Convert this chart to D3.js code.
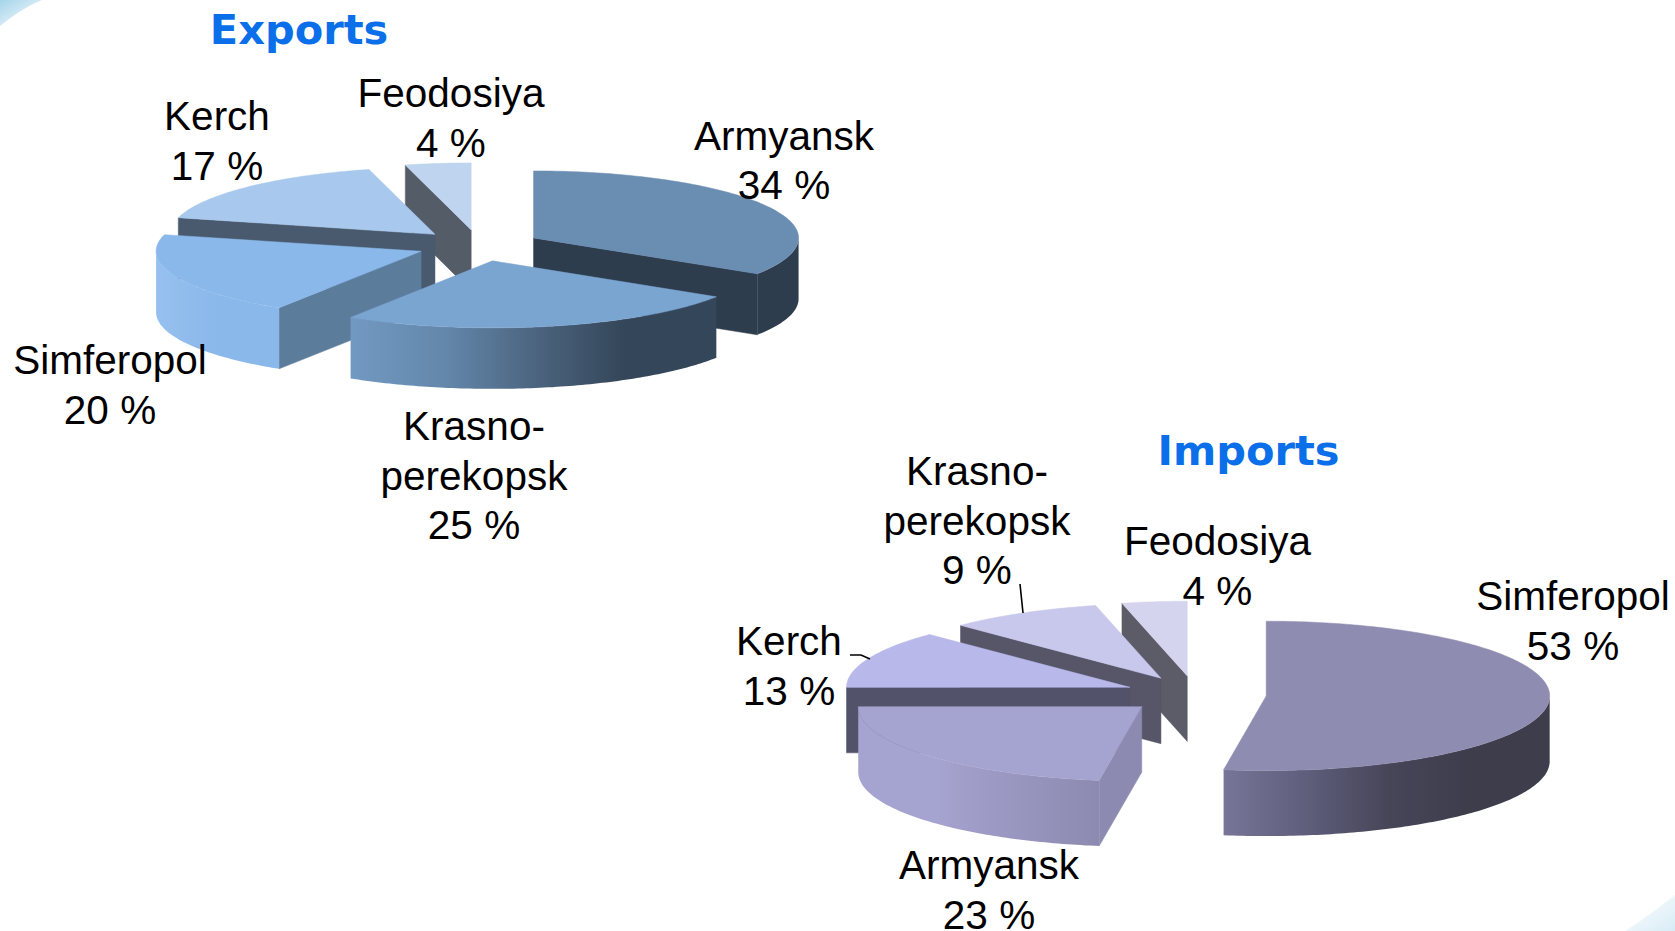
<!DOCTYPE html>
<html>
<head>
<meta charset="utf-8">
<script src="https://cdn.jsdelivr.net/npm/d3@7"></script>
<style>
html,body{margin:0;padding:0;background:#fff;overflow:hidden}
svg{display:block}
text{font-family:"Liberation Sans",Arial,sans-serif;fill:#000}
.title{font-family:"DejaVu Sans",Verdana,sans-serif;font-weight:700;fill:#0a6fe8}
</style>
</head>
<body>
<svg id="chart" width="1675" height="931"></svg>
<script>
// ---- data ----
const exportCities = ["Armyansk","Krasnoperekopsk","Simferopol","Kerch","Feodosiya"];
const exportValues = [34,25,20,17,4];
const exportPercentLabels = ["34 %","25 %","20 %","17 %","4 %"];

const importCities = ["Simferopol","Armyansk","Kerch","Krasnoperekopsk","Feodosiya"];
const importValues = [52.4,22.6,12.5,8.8,3.7];   // slice sizes as drawn
const importPercentLabels = ["53 %","23 %","13 %","9 %","4 %"];

// ---- styles (top, side face, outer wall gradient) ----
const exportStyles = [
  {top:"#6a8db2",face:"#2d3d4e",outer:["#2d3d4e","#2d3d4e"]},
  {top:"#7ba5d1",face:"#344659",outer:["#7299c2","#6488ac","#4c6580","#344659","#344659"]},
  {top:"#8ab8ea",face:"#5c7c9c",outer:["#96c0ef","#8ab8ea","#8ab8ea"]},
  {top:"#a9c8ee",face:"#495a6e",outer:["#a9c8ee","#a9c8ee"]},
  {top:"#bfd4ee",face:"#545c68",outer:["#bfd4ee","#bfd4ee"]}
];
const importStyles = [
  {top:"#8e8cb0",face:"#3e3d4c",outer:["#777598","#5f5e7c","#474659","#3e3d4c","#3e3d4c"]},
  {top:"#a5a3cf",face:"#8c8ab0",outer:["#a5a3cf","#a5a3cf","#9896bf","#8c8ab0"]},
  {top:"#b9b8ea",face:"#52526a",outer:["#b9b8ea","#b9b8ea"]},
  {top:"#c8c7ec",face:"#575669",outer:["#c8c7ec","#c8c7ec"]},
  {top:"#d4d4ee",face:"#5c5c68",outer:["#d4d4ee","#d4d4ee"]}
];

const svg = d3.select("#chart");
const defs = svg.append("defs");

// corner decorations
const cornerA = defs.append("linearGradient").attr("id","cornerA").attr("x1",0).attr("y1",0).attr("x2",1).attr("y2",1);
cornerA.append("stop").attr("offset","0%").attr("stop-color","#a5d4ea");
cornerA.append("stop").attr("offset","100%").attr("stop-color","#ffffff");
svg.append("path").attr("d","M0,0 L42,0 Q22,8 0,26 Z").attr("fill","url(#cornerA)");
const cornerB = defs.append("linearGradient").attr("id","cornerB").attr("x1",1).attr("y1",1).attr("x2",0).attr("y2",0);
cornerB.append("stop").attr("offset","0%").attr("stop-color","#d8ecf6");
cornerB.append("stop").attr("offset","100%").attr("stop-color","#ffffff");
svg.append("path").attr("d","M1675,895 L1675,931 L1625,931 Q1650,915 1675,895 Z").attr("fill","url(#cornerB)");

function drawPie3D(cfg){
  const arcs = d3.pie().sort(null).value(d=>d)(cfg.values);
  const sx = d3.scaleLinear().domain([-1,1]).range([-cfg.rx,cfg.rx]);
  const sy = d3.scaleLinear().domain([-1,1]).range([-cfg.ry,cfg.ry]);
  const line = d3.line();
  const g = svg.append("g").attr("class",cfg.id);

  const slices = arcs.map((a,i)=>{
    const mid=(a.startAngle+a.endAngle)/2;
    const ox=cfg.cx+sx(Math.sin(mid)*cfg.explode);
    const oy=cfg.cy+sy(-Math.cos(mid)*cfg.explode);
    const pt=th=>[ox+sx(Math.sin(th)),oy+sy(-Math.cos(th))];
    return {a,i,ox,oy,pt};
  });

  cfg.paintOrder.forEach(i=>{
    const {a,ox,oy,pt}=slices[i];
    const st=cfg.styles[i];
    const down=p=>[p[0],p[1]+cfg.depth];
    const sample=(from,to)=>{
      const n=Math.max(2,Math.ceil((to-from)*60));
      return d3.range(n+1).map(k=>pt(from+(to-from)*k/n));
    };
    const apex=[ox,oy];
    const face=p=>g.append("path")
      .attr("d",line([apex,p,down(p),down(apex)])+"Z")
      .attr("fill",st.face).attr("stroke",st.face).attr("stroke-width",0.5);
    if(Math.sin(a.startAngle)<-1e-6) face(pt(a.startAngle));
    if(Math.sin(a.endAngle)>1e-6) face(pt(a.endAngle));

    const from=Math.max(a.startAngle,Math.PI/2), to=Math.min(a.endAngle,3*Math.PI/2);
    if(to>from){
      const rim=sample(from,to);
      const xs=d3.extent(rim,p=>p[0]);
      const gid=cfg.id+"-outer-"+i;
      const grad=defs.append("linearGradient").attr("id",gid)
        .attr("gradientUnits","userSpaceOnUse")
        .attr("x1",xs[0]).attr("x2",xs[1]).attr("y1",0).attr("y2",0);
      const stops=st.outer;
      stops.forEach((c,k)=>grad.append("stop")
        .attr("offset",k/(stops.length-1)).attr("stop-color",c));
      g.append("path")
        .attr("d",line(rim.concat(rim.slice().reverse().map(down)))+"Z")
        .attr("fill",`url(#${gid})`);
    }
    g.append("path")
      .attr("d",line([apex].concat(sample(a.startAngle,a.endAngle)))+"Z")
      .attr("fill",st.top).attr("stroke",st.top).attr("stroke-width",0.5);
  });
}

drawPie3D({id:"exports",values:exportValues,styles:exportStyles,
  cx:479,cy:245.5,rx:265,ry:67,depth:61,explode:0.235,paintOrder:[4,3,0,2,1]});
drawPie3D({id:"imports",values:importValues,styles:importStyles,
  cx:1195.5,cy:694.5,rx:283.5,ry:74.7,depth:65.5,explode:0.25,paintOrder:[4,3,2,0,1]});

// ---- leader lines ----
const leaderPaths = [
  [[1020,584],[1023,613]],
  [[850,655],[861,655],[870,659]]
];
leaderPaths.forEach(p=>svg.append("path").attr("d",d3.line()(p))
  .attr("fill","none").attr("stroke","#000").attr("stroke-width",1.6));

// ---- labels ----
const fontSize = 40.5;
function label(lines,x,y){
  const t=svg.append("text").attr("text-anchor","middle").attr("font-size",fontSize);
  lines.forEach((s,k)=>t.append("tspan").attr("x",x).attr("y",y+k*49.5).text(s));
}
const splitName = n => n==="Krasnoperekopsk" ? ["Krasno-","perekopsk"] : [n];
const exportLabelAnchors = [[784,149.5],[474,440],[110,374],[217,130],[451,107]];
exportCities.forEach((c,i)=>label(splitName(c).concat(exportPercentLabels[i]),...exportLabelAnchors[i]));
const importLabelAnchors = [[1573,610],[989,879],[789,655],[977,485],[1217.5,555]];
importCities.forEach((c,i)=>label(splitName(c).concat(importPercentLabels[i]),...importLabelAnchors[i]));

const titles = ["Exports","Imports"];
const titleAnchors = [[299,44],[1248.5,464.5]];
titles.forEach((s,i)=>svg.append("text").attr("class","title").attr("text-anchor","middle")
  .attr("font-size",41.5).attr("x",titleAnchors[i][0]).attr("y",titleAnchors[i][1]).text(s));
</script>
</body>
</html>
